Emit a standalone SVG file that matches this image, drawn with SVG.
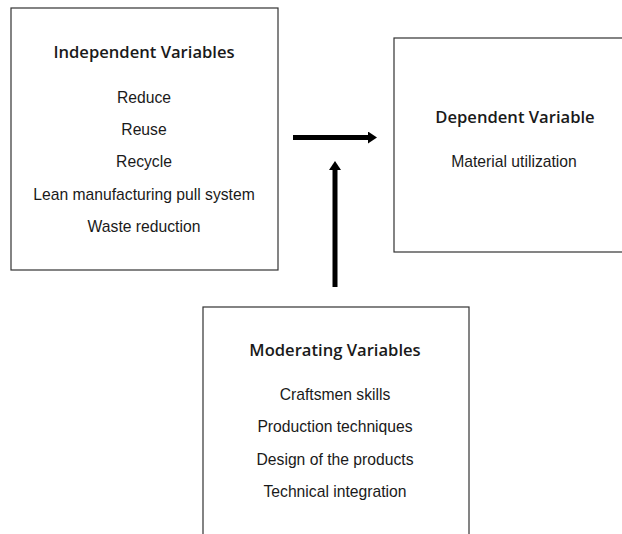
<svg xmlns="http://www.w3.org/2000/svg" width="622" height="534" viewBox="0 0 622 534">
<style>
.box{fill:#fff;stroke:#333;stroke-width:1.2}
.title{font-family:"Open Sans","Liberation Sans",sans-serif;font-weight:600;font-size:16.6px;fill:#1a1a1a;text-anchor:middle}
.item{font-family:"Liberation Sans",Arial,sans-serif;font-size:15.7px;fill:#1a1a1a;text-anchor:middle}
.conn{stroke:#000;stroke-width:5;fill:none}
</style>
<defs>
<marker id="ah" markerUnits="userSpaceOnUse" markerWidth="10" markerHeight="12" refX="0" refY="6" orient="auto">
<path d="M0,0 L9,6 L0,12 Z" fill="#000"/>
</marker>
</defs>
<rect width="622" height="534" fill="#fff"/>
<g id="independent">
<rect class="box" x="11" y="8" width="267" height="262"/>
<text class="title" x="144" y="58">Independent Variables</text>
<text class="item" x="144" y="102.5">Reduce</text>
<text class="item" x="144" y="135">Reuse</text>
<text class="item" x="144" y="167">Recycle</text>
<text class="item" x="144" y="199.5">Lean manufacturing pull system</text>
<text class="item" x="144" y="232">Waste reduction</text>
</g>
<g id="dependent">
<rect class="box" x="394" y="38" width="250" height="214"/>
<text class="title" x="515" y="123">Dependent Variable</text>
<text class="item" x="514" y="167">Material utilization</text>
</g>
<g id="moderating">
<rect class="box" x="203" y="307" width="266" height="240"/>
<text class="title" x="335" y="356">Moderating Variables</text>
<text class="item" x="335" y="400">Craftsmen skills</text>
<text class="item" x="335" y="432">Production techniques</text>
<text class="item" x="335" y="464.5">Design of the products</text>
<text class="item" x="335" y="497">Technical integration</text>
</g>
<g id="connectors">
<line class="conn" x1="293" y1="137.5" x2="368" y2="137.5" marker-end="url(#ah)"/>
<line class="conn" x1="335" y1="287" x2="335" y2="170" marker-end="url(#ah)"/>
</g>
</svg>
